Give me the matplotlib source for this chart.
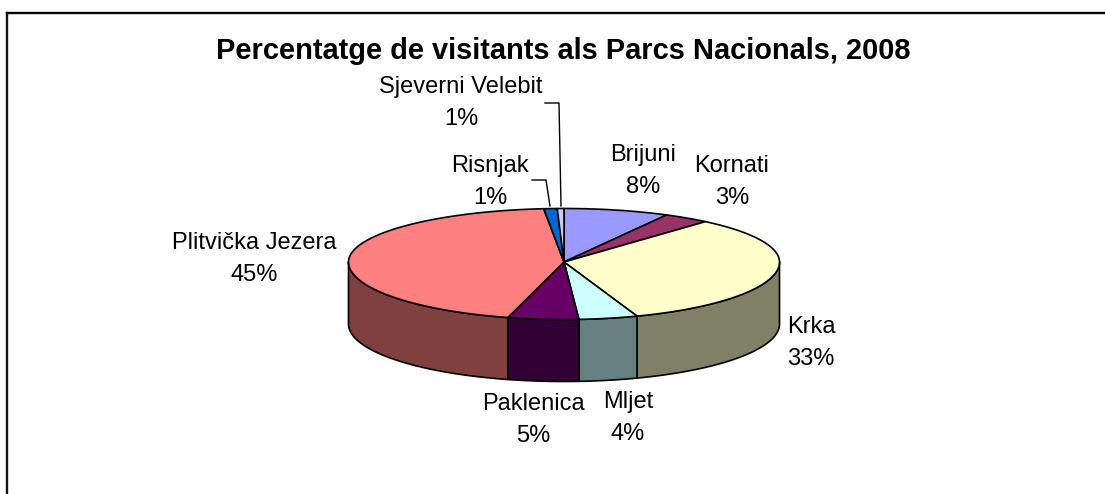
import numpy as np
import matplotlib
matplotlib.use("Agg")
import matplotlib.pyplot as plt
from matplotlib.patches import Polygon

plt.rcParams['font.family'] = ['Liberation Sans', 'DejaVu Sans']

title = "Percentatge de visitants als Parcs Nacionals, 2008"
categories = ["Brijuni", "Kornati", "Krka", "Mljet", "Paklenica",
              "Plitvička Jezera", "Risnjak", "Sjeverni Velebit"]
values = [7.9, 3.5, 33.1, 4.4, 5.3, 44.3, 1.0, 0.5]
pct_labels = ["8%", "3%", "33%", "4%", "5%", "45%", "1%", "1%"]
top_colors = ["#9999FF", "#993366", "#FFFFCC", "#CCFFFF", "#660066",
              "#FF8080", "#0066CC", "#CCCCFF"]
side_colors = ["#4C4C80", "#4C1933", "#808066", "#668080", "#330033",
               "#804040", "#003366", "#666680"]
label_pos = [(643, 171), (732, 182), (811, 343), (628, 418), (533, 420),
             (254, 259), (490, 182), (461, 103)]

CX, CY, RX, RY_BACK, RY_FRONT, DEPTH = 564, 262, 215.5, 53.5, 57.5, 62
EDGE = dict(edgecolor="black", linewidth=1.2, joinstyle="round")

fig = plt.figure(figsize=(11.05, 4.94), dpi=100)
ax = fig.add_axes([0, 0, 1, 1])
ax.set_xlim(0, 1105)
ax.set_ylim(494, 0)
ax.axis("off")

# only the top and left of the chart frame fall inside the picture
ax.plot([7, 1105], [13, 13], color="black", lw=1.7, solid_capstyle="projecting", zorder=1)
ax.plot([7, 7], [13, 494], color="#111111", lw=1.7, solid_capstyle="projecting", zorder=1)


def rim(theta, drop=0.0):
    theta = np.asarray(theta, dtype=float)
    ry = np.where(np.cos(theta) >= 0, RY_BACK, RY_FRONT)
    return CX + RX * np.sin(theta), CY - ry * np.cos(theta) + drop


fractions = np.array(values) / sum(values)
edges = np.concatenate([[0], np.cumsum(fractions)]) * 2 * np.pi

# side walls: only the part of each slice facing the viewer
for i in range(len(values)):
    a = max(edges[i], np.pi / 2)
    b = min(edges[i + 1], 3 * np.pi / 2)
    if b <= a:
        continue
    t = np.linspace(a, b, 80)
    xt, yt = rim(t)
    xb, yb = rim(t[::-1], DEPTH)
    ax.add_patch(Polygon(np.column_stack([np.r_[xt, xb], np.r_[yt, yb]]),
                         closed=True, facecolor=side_colors[i], zorder=2, **EDGE))

# top faces
for i in range(len(values)):
    t = np.linspace(edges[i], edges[i + 1], 120)
    xt, yt = rim(t)
    ax.add_patch(Polygon(np.column_stack([np.r_[CX, xt], np.r_[CY, yt]]),
                         closed=True, facecolor=top_colors[i], zorder=3, **EDGE))

ax.text(563.5, 59, title, ha="center", va="baseline", fontsize=20.9,
        fontweight="bold", color="black")

for name, pct, (x, y) in zip(categories, pct_labels, label_pos):
    ax.text(x, y, name + "\n" + pct, ha="center", va="center", fontsize=17,
            linespacing=1.58, color="black")

ax.plot([532, 546, 550], [180, 180, 206], color="black", lw=1.0, zorder=1)
ax.plot([545, 559, 561], [103, 103, 206], color="black", lw=1.0, zorder=1)

fig.savefig("out.png", dpi=100)
